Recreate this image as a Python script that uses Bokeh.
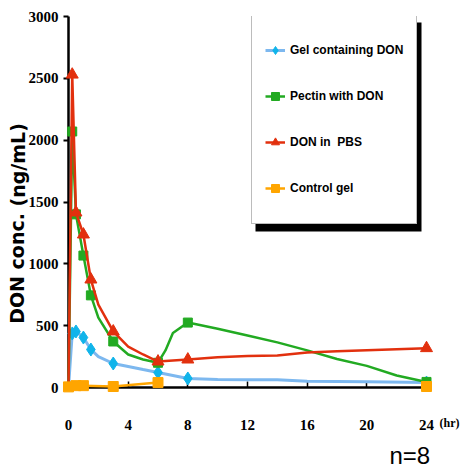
from bokeh.plotting import figure
from bokeh.models import (Legend, LegendItem, BoxAnnotation, FixedTicker, LinearAxis)
from bokeh.core.properties import value
from bokeh.embed import file_html
from bokeh.resources import INLINE

# ---- data ----
series_names = ["Gel containing DON", "Pectin with DON", "DON in  PBS", "Control gel"]

gel_t = [0.25, 0.5, 1, 1.5, 3, 6, 8, 24]
gel_v = [437, 453, 404, 307, 194, 121, 73, 40]
gel_line_t = [0, 0.25, 0.5, 1, 1.5, 2, 3, 4, 5, 6, 8, 10, 12, 14, 16, 20, 24]
gel_line_v = [0, 437, 453, 404, 307, 250, 194, 170, 145, 121, 73, 65, 63, 62, 50, 47, 40]

pec_t = [0.25, 0.5, 1, 1.5, 3, 6, 8, 24]
pec_v = [2070, 1400, 1067, 745, 372, 200, 525, 45]
pec_line_t = [0, 0.25, 0.5, 1, 1.5, 2, 3, 4, 5, 6, 6.5, 7, 8, 10, 12, 14, 16, 18, 20, 22, 24]
pec_line_v = [0, 2070, 1400, 1067, 745, 565, 372, 267, 226, 200, 300, 440, 525, 475, 420, 365, 300, 230, 175, 97, 45]

pbs_t = [0.25, 0.5, 1, 1.5, 3, 6, 8, 24]
pbs_v = [2530, 1415, 1237, 873, 453, 210, 226, 318]
pbs_line_t = [0, 0.25, 0.5, 1, 1.5, 2, 3, 4, 5, 6, 8, 10, 12, 14, 16, 18, 20, 22, 24]
pbs_line_v = [0, 2530, 1415, 1237, 873, 670, 453, 331, 267, 210, 226, 245, 255, 258, 283, 293, 302, 310, 318]

ctl_t = [0, 0.5, 1, 3, 6, 24]
ctl_v = [5, 15, 15, 8, 40, 8]
ctl_line_t = [0, 0.5, 1, 3, 6]
ctl_line_v = [5, 15, 15, 8, 40]

x_ticks = [0, 4, 8, 12, 16, 20, 24]
y_ticks = [0, 500, 1000, 1500, 2000, 2500, 3000]
y_title = "DON conc. (ng/mL)"
x_unit = "(hr)"
n_note = "n=8"

# ---- figure ----
W, H = 460, 470
p = figure(width=W, height=H, output_backend="svg", toolbar_location=None,
           x_range=(0, 24), y_range=(0, 3000),
           min_border_left=68, min_border_right=34, min_border_top=16, min_border_bottom=83,
           x_axis_type=None, y_axis_type=None)
p.outline_line_color = None
p.background_fill_color = "white"

tick_font = "Liberation Serif"

xaxis = LinearAxis(ticker=FixedTicker(ticks=x_ticks))
xaxis.axis_line_width = 2.5
xaxis.axis_line_color = "black"
xaxis.major_tick_in = 6
xaxis.major_tick_out = 0
xaxis.major_tick_line_width = 1.5
xaxis.minor_tick_line_color = None
xaxis.major_label_standoff = 32
xaxis.major_label_text_font = tick_font
xaxis.major_label_text_font_style = "bold"
xaxis.major_label_text_font_size = "15px"
xaxis.major_label_text_color = "black"
p.add_layout(xaxis, "below")

yaxis = LinearAxis(ticker=FixedTicker(ticks=y_ticks))
yaxis.axis_line_width = 2.5
yaxis.axis_line_color = "black"
yaxis.major_tick_in = 0
yaxis.major_tick_out = 5
yaxis.major_tick_line_width = 2
yaxis.minor_tick_line_color = None
yaxis.major_label_standoff = 5
yaxis.major_label_text_font = tick_font
yaxis.major_label_text_font_style = "bold"
yaxis.major_label_text_font_size = "15px"
yaxis.major_label_text_color = "black"
p.add_layout(yaxis, "left")

p.ygrid.ticker = FixedTicker(ticks=y_ticks)
p.ygrid.grid_line_color = "#e2e2e2"
p.ygrid.grid_line_width = 1
p.xgrid.grid_line_color = None

# ---- series ----
specs = [
    (gel_line_t, gel_line_v, gel_t, gel_v, "#7db8ef", "#10b4ea", "diamond", 13, 3),
    (pec_line_t, pec_line_v, pec_t, pec_v, "#22aa22", "#22aa22", "square", 9, 2.5),
    (pbs_line_t, pbs_line_v, pbs_t, pbs_v, "#e2300e", "#e2300e", "triangle", 12, 2.5),
    (ctl_line_t, ctl_line_v, ctl_t, ctl_v, "#ffa500", "#ffa500", "square", 10, 2.5),
]
items = []
for name, (lt, lv, mt, mv, lc, mc, mk, ms, lw) in zip(series_names, specs):
    lr = p.line(lt, lv, line_color=lc, line_width=lw, level="overlay")
    mr = p.scatter(mt, mv, marker=mk, size=ms, fill_color=mc, line_color=mc, level="overlay")
    items.append(LegendItem(label=name, renderers=[lr, mr]))

# legend shadow
shadow = BoxAnnotation(left=255, right=421, top=22, bottom=231,
                       left_units="canvas", right_units="canvas",
                       top_units="canvas", bottom_units="canvas",
                       fill_color="black", fill_alpha=1.0, line_color=None)
p.add_layout(shadow)

legend = Legend(items=items, location=(183, 163))
legend.border_line_color = "#7a7a7a"
legend.border_line_width = 1
legend.background_fill_color = "white"
legend.background_fill_alpha = 1.0
legend.padding = 13
legend.spacing = 1
legend.label_height = 45
legend.glyph_width = 20
legend.label_standoff = 5
legend.label_text_font = "Liberation Sans"
legend.label_text_font_style = "bold"
legend.label_text_font_size = "12px"
legend.label_text_color = "black"
legend.margin = 0
p.add_layout(legend)

# texts anchored at the axes, offset in pixels
p.text(x=[0], y=[0], text=[y_title], angle=1.5707963, x_offset=-51, y_offset=-164,
       text_align="center", text_baseline="middle",
       text_font=value("DejaVu Sans"), text_font_style="bold",
       text_font_size="19px", text_color="black", level="overlay")
p.text(x=[24], y=[0], text=[x_unit], x_offset=13, y_offset=35,
       text_align="left", text_baseline="middle",
       text_font=value("Liberation Serif"), text_font_style="bold",
       text_font_size="12px", text_color="black", level="overlay")
p.text(x=[24], y=[0], text=[n_note], x_offset=-37, y_offset=68,
       text_align="left", text_baseline="middle",
       text_font=value("Liberation Sans"),
       text_font_size="24px", text_color="black", level="overlay")

open("out.html", "w").write(file_html(p, INLINE))
